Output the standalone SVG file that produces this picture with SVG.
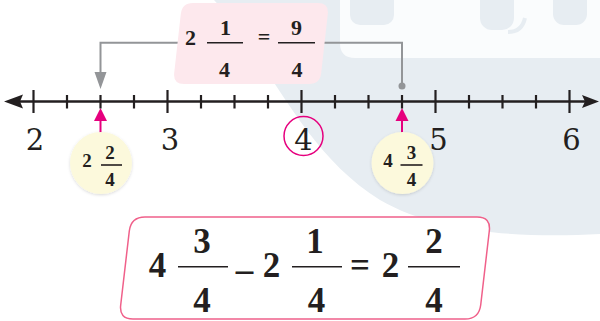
<svg xmlns="http://www.w3.org/2000/svg" width="600" height="321" viewBox="0 0 600 321">
<style>
.ink{fill:#231f20}
.num{font-family:"DejaVu Serif","Liberation Serif",serif;font-size:29px;fill:#231f20;text-anchor:middle}
.b{font-family:"Liberation Serif","DejaVu Serif",serif;font-weight:bold;fill:#231f20;text-anchor:middle}
.t20{font-size:22px}
.t33{font-size:35px}
.t17{font-size:19px}
.bar{stroke:#231f20;stroke-width:1.6}
.tick{stroke:#231f20;stroke-width:2.2}
.gray{stroke:#939598;stroke-width:2;fill:none}
.mag{stroke:#e6007e;stroke-width:2;fill:none}
</style>
<defs>
<filter id="sh" x="-20%" y="-20%" width="140%" height="140%">
<feDropShadow dx="0" dy="1" stdDeviation="1.5" flood-color="#000" flood-opacity="0.15"/>
</filter>
</defs>
<rect width="600" height="321" fill="#ffffff"/>
<g id="watermark">
<path d="M 214 0 C 270 60 300 150 380 200 C 440 235 530 238 600 234 L 600 0 Z" fill="#e7edf2"/>
<path d="M 340 -10 L 600 -10 L 600 58 L 355 58 Q 340 58 340 43 Z" fill="#ffffff" opacity="0.8"/>
<rect x="350" y="-15" width="44" height="40" rx="10" fill="#e7edf2"/>
<rect x="480" y="-15" width="34" height="45" rx="12" fill="#e7edf2"/>
<rect x="553" y="-15" width="34" height="40" rx="11" fill="#e7edf2"/>
<path d="M 508 32 Q 522 32 525 18" stroke="#e7edf2" stroke-width="4" fill="none"/>
</g>
<g id="connectors">
<path class="gray" d="M 178 42.7 L 100.5 42.7 L 100.5 74"/>
<path d="M 94.5 72 L 106.5 72 L 100.5 89 Z" fill="#939598"/>
<path class="gray" d="M 322 42.7 L 402 42.7 L 402 86"/>
<circle cx="402" cy="86" r="3.5" fill="#939598"/>
<path class="mag" d="M 100.5 134 L 100.5 118"/>
<path d="M 100.5 108 L 107 121 L 94 121 Z" fill="#e6007e"/>
<path class="mag" d="M 402 134 L 402 118"/>
<path d="M 402 108 L 408.5 121 L 395.5 121 Z" fill="#e6007e"/>
</g>
<g id="numberline">
<line x1="18" y1="101.5" x2="586" y2="101.5" stroke="#231f20" stroke-width="2.5"/>
<path d="M 4 101.5 L 23 94.5 L 20 101.5 L 23 108.5 Z" class="ink"/>
<path d="M 599 101.5 L 582 95 L 585 101.5 L 582 108 Z" class="ink"/>
<g class="tick">
<line x1="33.5" y1="90" x2="33.5" y2="113"/>
<line x1="67" y1="95" x2="67" y2="108.5"/>
<line x1="100.5" y1="95" x2="100.5" y2="108.5"/>
<line x1="134" y1="95" x2="134" y2="108.5"/>
<line x1="167.5" y1="90" x2="167.5" y2="113"/>
<line x1="201" y1="95" x2="201" y2="108.5"/>
<line x1="234.5" y1="95" x2="234.5" y2="108.5"/>
<line x1="268" y1="95" x2="268" y2="108.5"/>
<line x1="301.5" y1="90" x2="301.5" y2="113"/>
<line x1="335" y1="95" x2="335" y2="108.5"/>
<line x1="368.5" y1="95" x2="368.5" y2="108.5"/>
<line x1="402" y1="95" x2="402" y2="108.5"/>
<line x1="435.5" y1="90" x2="435.5" y2="113"/>
<line x1="469" y1="95" x2="469" y2="108.5"/>
<line x1="502.5" y1="95" x2="502.5" y2="108.5"/>
<line x1="536" y1="95" x2="536" y2="108.5"/>
<line x1="569.5" y1="90" x2="569.5" y2="113"/>
</g>
<text class="num" x="35" y="150">2</text>
<text class="num" x="170" y="150">3</text>
<text class="num" x="303.5" y="150">4</text>
<text class="num" x="438.5" y="150">5</text>
<text class="num" x="571.5" y="150">6</text>
<circle cx="303.5" cy="136" r="19.5" fill="none" stroke="#e6007e" stroke-width="1.5"/>
</g>
<g id="top-box">
<path d="M 193 3 L 318 3 Q 329 3 327.8 14 L 321.2 73 Q 320 84 309 84 L 184 84 Q 173 84 174.2 73 L 180.8 14 Q 182 3 193 3 Z" fill="#fde8ed"/>
<text class="b t20" x="190.5" y="44.5">2</text>
<text class="b t20" x="225.5" y="35">1</text>
<line class="bar" x1="207" y1="42.7" x2="243" y2="42.7"/>
<text class="b t20" x="224.5" y="77">4</text>
<text class="b t20" x="264" y="44">=</text>
<text class="b t20" x="296.5" y="35">9</text>
<line class="bar" x1="278" y1="42.7" x2="315" y2="42.7"/>
<text class="b t20" x="297" y="77">4</text>
</g>
<g id="left-bubble">
<circle cx="101" cy="163" r="31" fill="#fcf9dc" filter="url(#sh)"/>
<text class="b t17" x="87" y="167">2</text>
<text class="b t17" x="110" y="159">2</text>
<line class="bar" x1="101" y1="165" x2="122" y2="165" stroke-width="1.3"/>
<text class="b t17" x="110" y="186">4</text>
</g>
<g id="right-bubble">
<circle cx="402.5" cy="163" r="31" fill="#fcf9dc" filter="url(#sh)"/>
<text class="b t17" x="388" y="167">4</text>
<text class="b t17" x="411.5" y="159">3</text>
<line class="bar" x1="400.5" y1="165" x2="422.5" y2="165" stroke-width="1.3"/>
<text class="b t17" x="411.5" y="186">4</text>
</g>
<g id="bottom-box">
<path d="M 145 217 L 477 217 Q 491 217 489.3 231 L 480.7 305 Q 479 319 465 319 L 133 319 Q 119 319 120.7 305 L 129.3 231 Q 131 217 145 217 Z" fill="#ffffff" stroke="#f0608a" stroke-width="1.5"/>
<text class="b t33" x="157.5" y="277">4</text>
<text class="b t33" x="202" y="253">3</text>
<line class="bar" x1="178" y1="266.7" x2="228" y2="266.7" stroke-width="2"/>
<text class="b t33" x="202" y="312">4</text>
<text class="b t33" x="244.5" y="281">–</text>
<text class="b t33" x="271.5" y="277">2</text>
<text class="b t33" x="315" y="253">1</text>
<line class="bar" x1="292" y1="266.7" x2="342" y2="266.7" stroke-width="2"/>
<text class="b t33" x="316.5" y="312">4</text>
<text class="b t33" x="360" y="277">=</text>
<text class="b t33" x="390.5" y="277">2</text>
<text class="b t33" x="434" y="253">2</text>
<line class="bar" x1="408" y1="266.7" x2="460" y2="266.7" stroke-width="2"/>
<text class="b t33" x="434" y="312">4</text>
</g>
</svg>
